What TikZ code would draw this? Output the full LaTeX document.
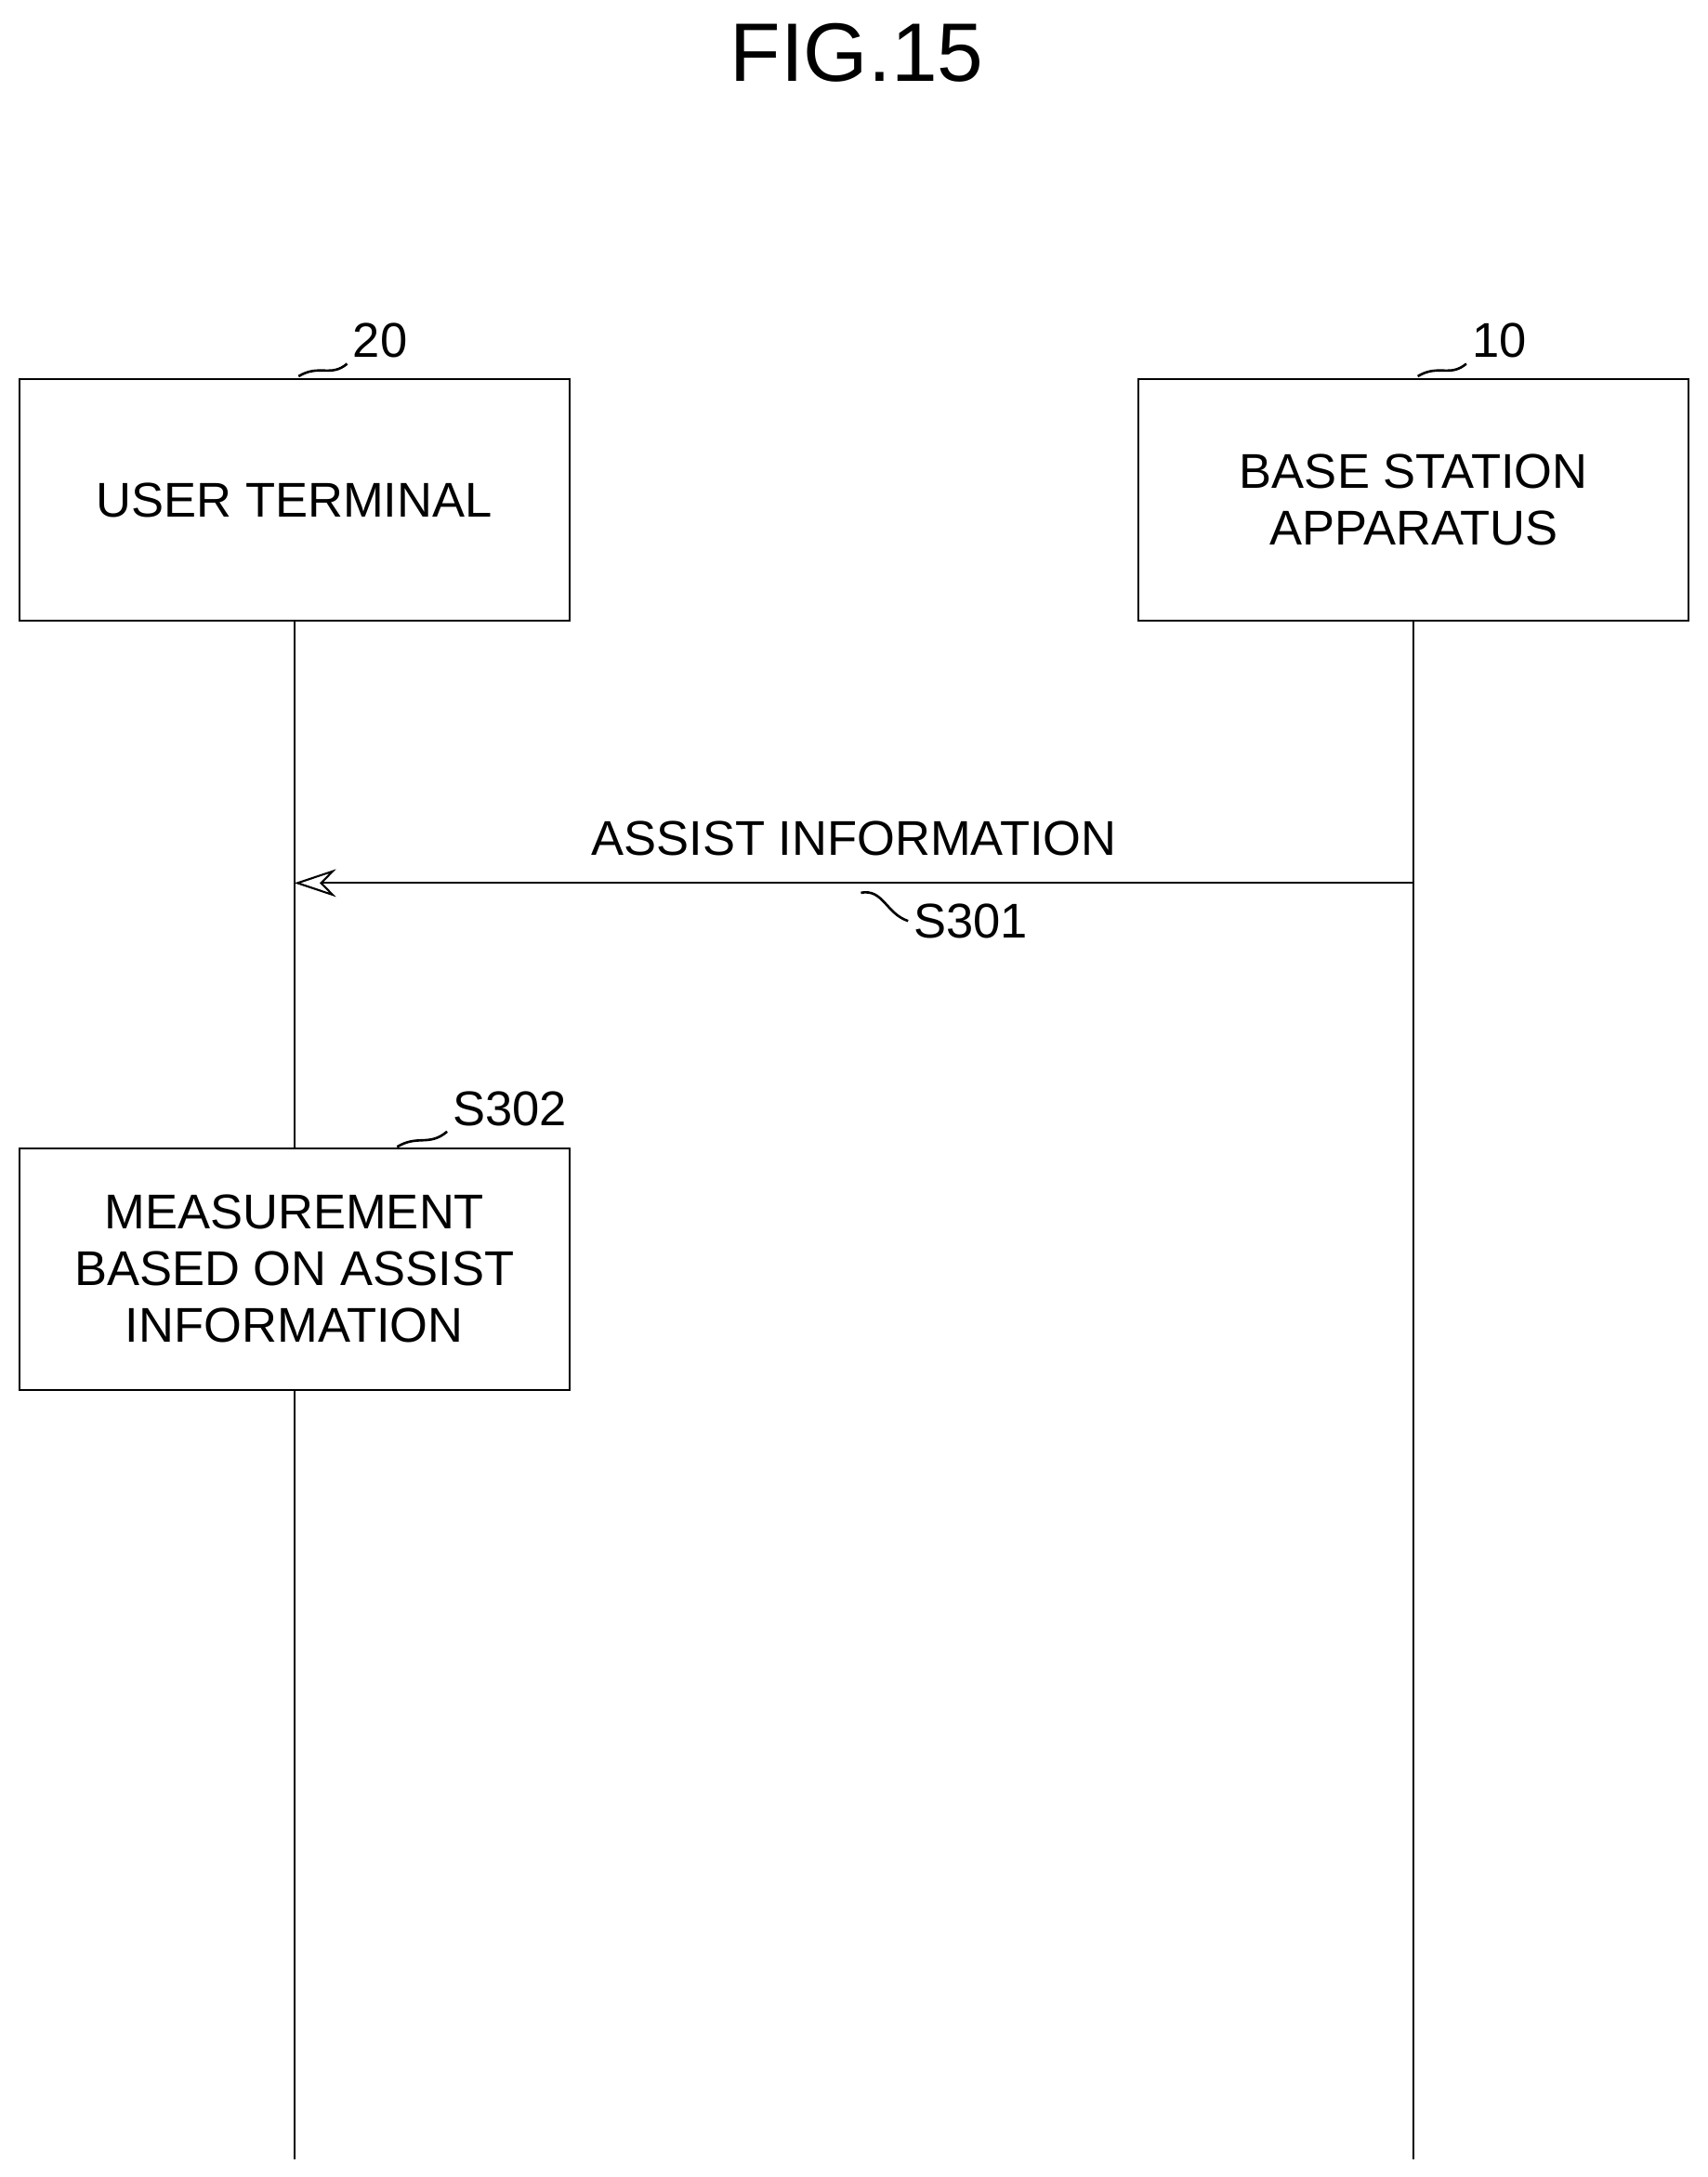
\documentclass[tikz,border=0pt]{standalone}
\usepackage{fontspec}
\setmainfont{Liberation Sans}
\usetikzlibrary{arrows.meta}
\begin{document}
\begin{tikzpicture}
  [x=0.1mm,y=-0.1mm,font=\fontsize{10}{11.6}\selectfont,
   box/.style={draw,minimum width=39.6mm,minimum height=17.4mm,align=center,inner sep=0pt},
   tag/.style={inner sep=1pt,anchor=south west},
   squig/.style={line width=0.5pt}]
  \useasboundingbox (0,0) rectangle (1230,1568);
  \node[font=\fontsize{17}{20}\selectfont] (fig) at (617,38) {FIG.15};
  \node[box] (ue) at (212,360) {USER TERMINAL};
  \node[box] (bs) at (1018,360) {BASE STATION\\APPARATUS};
  \node[box] (meas) at (212,914) {MEASUREMENT\\BASED ON ASSIST\\INFORMATION};
  \coordinate (ueend) at (212,1555);
  \coordinate (bsend) at (1018,1555);
  \coordinate (ueA) at (212,636);
  \coordinate (bsA) at (1018,636);
  \draw (ue) -- (meas);
  \draw (meas) -- (ueend);
  \draw (bs) -- (bsend);
  \draw[-{Stealth[open,length=3mm,width=2mm]}] (bsA) -- (ueA)
    node[midway,above=2pt] (msg) {ASSIST INFORMATION};
  % reference labels
  \node[tag] (n20) at (250,262) {20};
  \node[tag] (n10) at (1056,262) {10};
  \node[tag] (s301) at (654,680) {S301};
  \node[tag] (s302) at (322,815) {S302};
  \draw[squig] (215,271) .. controls (230,262) and (238,272) .. (n20.south west);
  \draw[squig] (1021,271) .. controls (1036,262) and (1044,272) .. (n10.south west);
  \draw[squig] (620,643) .. controls (636,640) and (638,658) .. (s301.west);
  \draw[squig] (286,826) .. controls (301,817) and (309,826) .. (s302.south west);
\end{tikzpicture}
\end{document}
